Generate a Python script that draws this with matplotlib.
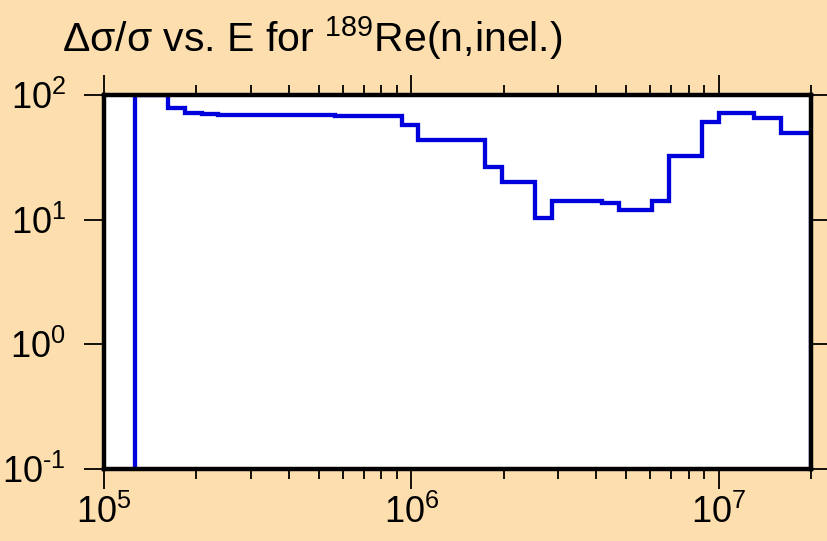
import math
import matplotlib
matplotlib.use("Agg")
import matplotlib.pyplot as plt
from matplotlib.ticker import LogLocator, FixedLocator, NullFormatter, FuncFormatter, NullLocator

plt.rcParams['font.family'] = ['Liberation Sans', 'DejaVu Sans']
plt.rcParams['mathtext.fontset'] = 'custom'
plt.rcParams['mathtext.rm'] = 'Liberation Sans'
plt.rcParams['mathtext.it'] = 'Liberation Sans:italic'
plt.rcParams['mathtext.bf'] = 'Liberation Sans:bold'

# Data: energy bin edges (eV) and relative uncertainty (%)
edges = [1.26e5, 1.62e5, 1.84e5, 2.08e5, 2.35e5, 3.03e5, 3.89e5, 5.65e5, 7.24e5,
         9.36e5, 1.05e6, 1.74e6, 1.97e6, 2.53e6, 2.87e6, 4.18e6, 4.73e6, 6.08e6,
         6.89e6, 8.85e6, 1.0e7, 1.30e7, 1.60e7, 2.0e7]
values = [99.5, 78, 72, 70, 69.5, 69, 68.8, 67.5, 67.5,
          57.4, 43.6, 26.3, 20.2, 10.3, 14.2, 13.5, 11.9, 14.2,
          32.6, 61, 71.3, 65, 49.3]
x_ticks = [1e5, 1e6, 1e7]
y_ticks = [1e-1, 1e0, 1e1, 1e2]

bg = '#FDDFAF'
fig = plt.figure(figsize=(8.27, 5.41), dpi=100, facecolor=bg)
ax = fig.add_axes([104/827, 72/541, 707/827, 374/541])
ax.set_facecolor('white')

ax.stairs(values, edges, baseline=1e-3, color='#0000DD', linewidth=3.1)

ax.set_xscale('log')
ax.set_yscale('log')
ax.set_xlim(1e5, 2e7)
ax.set_ylim(1e-1, 1e2)

def fmt(v, pos):
    e = int(round(math.log10(v)))
    if e < 0:
        return r'$\mathrm{10^{\text{-}%d}}$' % (-e)
    return r'$\mathrm{10^{%d}}$' % e

ax.xaxis.set_major_locator(FixedLocator(x_ticks))
ax.xaxis.set_minor_locator(LogLocator(base=10, subs=range(2, 10), numticks=20))
ax.xaxis.set_minor_formatter(NullFormatter())
ax.xaxis.set_major_formatter(FuncFormatter(fmt))
ax.yaxis.set_major_locator(FixedLocator(y_ticks))
ax.yaxis.set_minor_locator(NullLocator())
ax.yaxis.set_major_formatter(FuncFormatter(fmt))

for s in ax.spines.values():
    s.set_linewidth(3.2)
    s.set_color('black')

ax.tick_params(axis='both', which='major', direction='out', length=14.5, width=1.3,
               labelsize=26, colors='black', top=True, right=True)
ax.tick_params(axis='x', which='minor', direction='out', length=7, width=1.3,
               top=True, bottom=True)
ax.tick_params(axis='x', which='major', pad=4)
ax.tick_params(axis='y', which='major', pad=13)

fig.text(62/827, 1 - 52/541, r'Δσ/σ vs. E for $^{189}$Re(n,inel.)', fontsize=29.5,
         ha='left', va='baseline', color='black')

fig.savefig('out.png', dpi=100, facecolor=bg)
